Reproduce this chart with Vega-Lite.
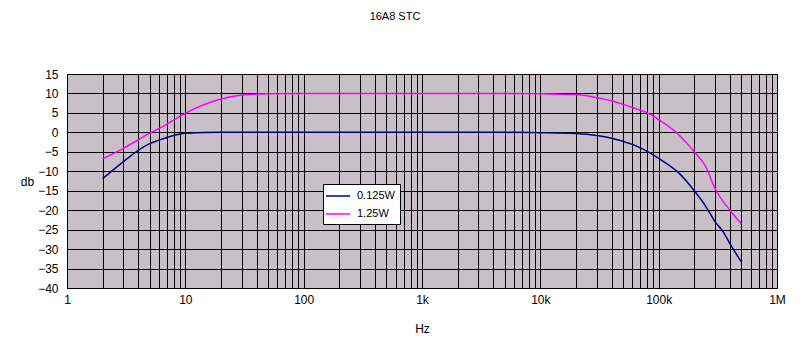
{
  "$schema": "https://vega.github.io/schema/vega-lite/v6.json",
  "width": 710,
  "height": 214,
  "autosize": {"type": "none"},
  "padding": {"left": 67, "top": 74, "right": 32, "bottom": 66},
  "background": "white",
  "title": {"text": "16A8 STC", "font": "Liberation Sans", "fontSize": 11, "fontWeight": "normal", "color": "black", "anchor": "middle", "dx": -27, "dy": 2, "offset": 48},
  "config": {
    "view": {"fill": "#c8c0c6", "stroke": "#808080", "strokeWidth": 1},
    "axis": {"labelFont": "Liberation Sans", "titleFont": "Liberation Sans", "labelColor": "black", "titleColor": "black", "titleFontWeight": "normal", "domain": false, "ticks": false, "gridColor": "black", "gridOpacity": 1, "gridWidth": 1}
  },
  "data": {"values": [
    {"f": 2, "db": -11.9, "s": "0.125W"},
    {"f": 3, "db": -7.5, "s": "0.125W"},
    {"f": 4, "db": -4.6, "s": "0.125W"},
    {"f": 5, "db": -2.9, "s": "0.125W"},
    {"f": 6, "db": -2.0, "s": "0.125W"},
    {"f": 7, "db": -1.3, "s": "0.125W"},
    {"f": 8, "db": -0.8, "s": "0.125W"},
    {"f": 9, "db": -0.4, "s": "0.125W"},
    {"f": 10, "db": -0.2, "s": "0.125W"},
    {"f": 20, "db": 0, "s": "0.125W"},
    {"f": 50, "db": 0, "s": "0.125W"},
    {"f": 100, "db": 0, "s": "0.125W"},
    {"f": 1000, "db": 0, "s": "0.125W"},
    {"f": 5000, "db": 0, "s": "0.125W"},
    {"f": 10000, "db": -0.1, "s": "0.125W"},
    {"f": 20000, "db": -0.3, "s": "0.125W"},
    {"f": 30000, "db": -0.8, "s": "0.125W"},
    {"f": 40000, "db": -1.5, "s": "0.125W"},
    {"f": 50000, "db": -2.3, "s": "0.125W"},
    {"f": 60000, "db": -3.1, "s": "0.125W"},
    {"f": 70000, "db": -4.0, "s": "0.125W"},
    {"f": 80000, "db": -4.9, "s": "0.125W"},
    {"f": 90000, "db": -5.8, "s": "0.125W"},
    {"f": 100000, "db": -6.7, "s": "0.125W"},
    {"f": 150000, "db": -10.6, "s": "0.125W"},
    {"f": 200000, "db": -15, "s": "0.125W"},
    {"f": 250000, "db": -19, "s": "0.125W"},
    {"f": 300000, "db": -23, "s": "0.125W"},
    {"f": 350000, "db": -25.5, "s": "0.125W"},
    {"f": 400000, "db": -28.6, "s": "0.125W"},
    {"f": 500000, "db": -33.3, "s": "0.125W"},
    {"f": 2, "db": -6.8, "s": "1.25W"},
    {"f": 3, "db": -4.1, "s": "1.25W"},
    {"f": 4, "db": -1.9, "s": "1.25W"},
    {"f": 5, "db": -0.2, "s": "1.25W"},
    {"f": 6, "db": 1.0, "s": "1.25W"},
    {"f": 7, "db": 2.1, "s": "1.25W"},
    {"f": 8, "db": 3.2, "s": "1.25W"},
    {"f": 9, "db": 4.1, "s": "1.25W"},
    {"f": 10, "db": 4.9, "s": "1.25W"},
    {"f": 20, "db": 8.6, "s": "1.25W"},
    {"f": 30, "db": 9.6, "s": "1.25W"},
    {"f": 50, "db": 9.9, "s": "1.25W"},
    {"f": 100, "db": 10, "s": "1.25W"},
    {"f": 1000, "db": 10, "s": "1.25W"},
    {"f": 5000, "db": 10, "s": "1.25W"},
    {"f": 10000, "db": 9.95, "s": "1.25W"},
    {"f": 20000, "db": 9.7, "s": "1.25W"},
    {"f": 30000, "db": 8.9, "s": "1.25W"},
    {"f": 40000, "db": 8.1, "s": "1.25W"},
    {"f": 50000, "db": 7.2, "s": "1.25W"},
    {"f": 60000, "db": 6.4, "s": "1.25W"},
    {"f": 70000, "db": 5.7, "s": "1.25W"},
    {"f": 80000, "db": 5.0, "s": "1.25W"},
    {"f": 90000, "db": 4.2, "s": "1.25W"},
    {"f": 100000, "db": 3.3, "s": "1.25W"},
    {"f": 150000, "db": -0.8, "s": "1.25W"},
    {"f": 200000, "db": -5, "s": "1.25W"},
    {"f": 250000, "db": -8.8, "s": "1.25W"},
    {"f": 300000, "db": -14.5, "s": "1.25W"},
    {"f": 400000, "db": -20, "s": "1.25W"},
    {"f": 500000, "db": -23.5, "s": "1.25W"}
  ]},
  "mark": {"type": "line", "strokeWidth": 1.5, "interpolate": "monotone"},
  "encoding": {
    "x": {
      "field": "f", "type": "quantitative",
      "scale": {"type": "log", "domain": [1, 1000000], "nice": false},
      "axis": {
        "title": "Hz", "titleFontSize": 12, "titleBaseline": "middle", "titleY": 40,
        "labelFontSize": 12, "labelPadding": 6, "labelOverlap": false, "labelFlush": false,
        "values": [1,2,3,4,5,6,7,8,9,10,20,30,40,50,60,70,80,90,100,200,300,400,500,600,700,800,900,1000,2000,3000,4000,5000,6000,7000,8000,9000,10000,20000,30000,40000,50000,60000,70000,80000,90000,100000,200000,300000,400000,500000,600000,700000,800000,900000,1000000],
        "labelExpr": "datum.value==1?'1':datum.value==10?'10':datum.value==100?'100':datum.value==1000?'1k':datum.value==10000?'10k':datum.value==100000?'100k':datum.value==1000000?'1M':''"
      }
    },
    "y": {
      "field": "db", "type": "quantitative",
      "scale": {"domain": [-40, 15], "nice": false},
      "axis": {
        "title": "db", "titleFontSize": 12, "titleAngle": 0, "titleAlign": "center", "titleBaseline": "middle", "titleX": -40, "titleY": 107,
        "labelFontSize": 12, "labelPadding": 9,
        "values": [-40,-35,-30,-25,-20,-15,-10,-5,0,5,10,15]
      }
    },
    "color": {
      "field": "s", "type": "nominal",
      "scale": {"domain": ["0.125W", "1.25W"], "range": ["#000080", "#ff00ff"]},
      "legend": {
        "title": null, "orient": "none", "legendX": 256, "legendY": 110,
        "fillColor": "white", "strokeColor": "black", "padding": 5,
        "symbolType": "M-2,0H2", "symbolSize": 144, "symbolStrokeWidth": 1.5, "symbolOffset": 3,
        "labelFont": "Liberation Sans", "labelFontSize": 11, "labelColor": "black", "labelOffset": 12, "rowPadding": 6
      }
    }
  }
}
